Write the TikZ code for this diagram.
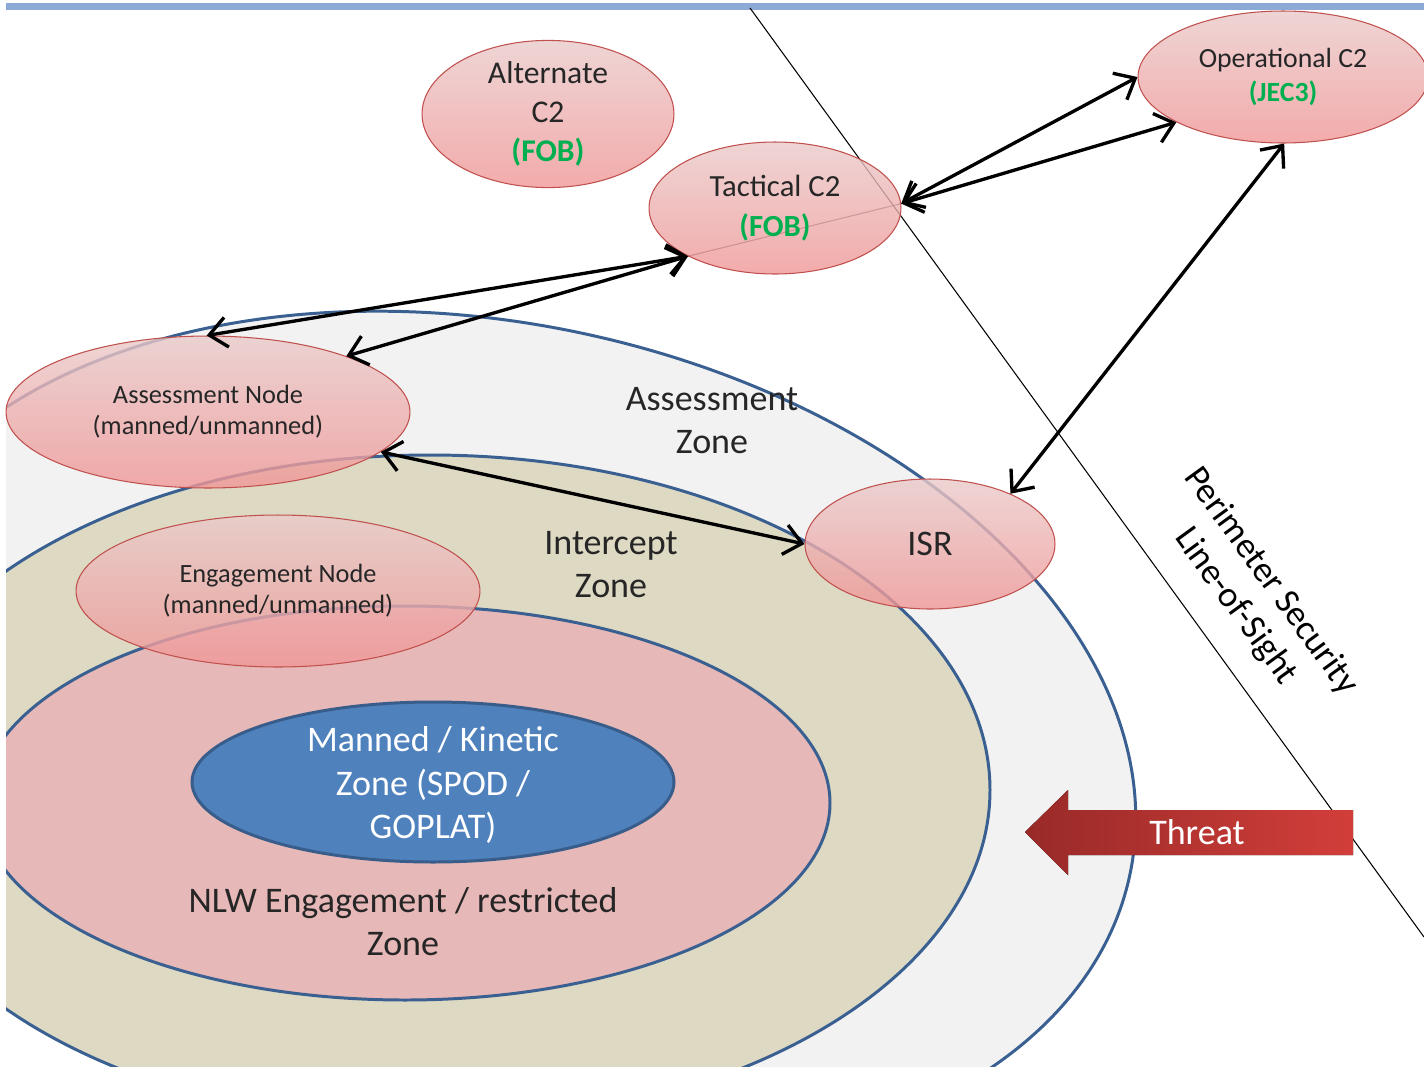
\documentclass[tikz,border=0pt]{standalone}
\usepackage{fontspec}
\setmainfont{Carlito}
\usepackage{tikz}
\usetikzlibrary{arrows.meta,backgrounds,shapes.geometric}

\definecolor{zoneline}{RGB}{58,96,146}
\definecolor{assessfill}{RGB}{242,242,242}
\definecolor{interceptfill}{RGB}{221,217,195}
\definecolor{nlwfill}{RGB}{230,184,183}
\definecolor{mannedfill}{RGB}{79,129,189}
\definecolor{mannedline}{RGB}{56,93,138}
\definecolor{nodeline}{RGB}{192,80,77}
\definecolor{nodetop}{RGB}{234,202,202}
\definecolor{nodebottom}{RGB}{240,150,150}
\definecolor{fobgreen}{RGB}{0,176,80}
\definecolor{barblue}{RGB}{141,170,214}
\definecolor{threatdark}{RGB}{152,42,40}
\definecolor{threatlight}{RGB}{210,62,58}

\newcommand{\fobtag}[1]{{\bfseries\color{fobgreen}#1}}

\tikzset{
  c2node/.style={ellipse, draw=nodeline, line width=0.6pt, top color=nodetop, bottom color=nodebottom,
    fill opacity=0.8, text opacity=1, inner sep=0pt, align=center, text=black!85},
  zone/.style={draw=zoneline, line width=1.7pt},
  link/.style={{Straight Barb[length=3.5mm,width=6mm]}-{Straight Barb[length=3.5mm,width=6mm]}, line width=1.9pt},
  zonetext/.style={font=\fontsize{20.5}{24.5}\selectfont, align=center, text=black!85},
}

\begin{document}
\begin{tikzpicture}[x=0.02cm, y=-0.02cm]
\useasboundingbox (0,0) rectangle (1424,1069);
\fill[barblue] (6,3) rectangle (1424,10);

\begin{scope}
\clip (6,0) rectangle (1424,1066);
\filldraw[zone, fill=assessfill, rotate around={-12:(495,740)}] (495,740) ellipse [x radius=649, y radius=416];
\filldraw[zone, fill=interceptfill] (430,790) ellipse [x radius=560, y radius=335];
\filldraw[zone, fill=nlwfill] (405,803) ellipse [x radius=425, y radius=197];
\end{scope}
\filldraw[draw=mannedline, line width=1.7pt, fill=mannedfill] (433,782) ellipse [x radius=241, y radius=80];

\coordinate (los top) at (750,8);
\coordinate (los bottom) at (1424,937);
\draw[line width=0.6pt] (los top) -- (los bottom);

\node[zonetext] (assess zone) at (712,421) {Assessment\\Zone};
\node[zonetext] (intercept zone) at (611,565) {Intercept\\Zone};
\node[zonetext] (nlw zone) at (403,922) {NLW Engagement / restricted\\Zone};
\node[zonetext, text=white] (manned zone) at (433,785) {Manned / Kinetic\\Zone (SPOD /\\GOPLAT)};
\node[zonetext, rotate=-54, text=black] (los label) at (1253,594) {Perimeter Security\\Line-of-Sight};

\fill[left color=threatdark, right color=threatlight]
  (1353,810) -- (1068,810) -- (1068,790) -- (1025,832) -- (1068,875) -- (1068,855) -- (1353,855) -- cycle;
\node[zonetext, text=white] (threat) at (1197,832) {Threat};

\node[c2node, minimum width=5.04cm, minimum height=2.6cm, font=\fontsize{18}{22}\selectfont] (alt) at (548,114) {Alternate\\C2\\\fobtag{(FOB)}};
\node[c2node, minimum width=5.04cm, minimum height=2.64cm, font=\fontsize{17.5}{23}\selectfont] (tac) at (775,208) {Tactical C2\\\fobtag{(FOB)}};
\node[c2node, minimum width=5.8cm, minimum height=2.64cm, font=\fontsize{15.8}{19.5}\selectfont] (op) at (1283,77) {Operational C2\\\fobtag{(JEC3)}};
\node[c2node, minimum width=8.08cm, minimum height=3.04cm, font=\fontsize{15}{17.6}\selectfont] (an) at (208,412) {Assessment Node\\(manned/unmanned)};
\node[c2node, minimum width=8.08cm, minimum height=3.04cm, font=\fontsize{15}{17.6}\selectfont] (en) at (278,591) {Engagement Node\\(manned/unmanned)};
\node[c2node, minimum width=5.0cm, minimum height=2.6cm, font=\fontsize{20.5}{24}\selectfont] (isr) at (930,544) {ISR};

\begin{scope}[on background layer]
\draw[line width=0.6pt, black!70] (tac.209) -- (tac.2);
\end{scope}

\draw[link] (an.91) -- (tac.209);
\draw[link] (an.22) -- (tac.209);
\draw[link] (tac.2) -- (op.west);
\draw[link] (tac.2) -- (op.203);
\draw[link] (an.347) -- (isr.west);
\draw[link] (isr.32) -- (op.271);
\end{tikzpicture}
\end{document}
